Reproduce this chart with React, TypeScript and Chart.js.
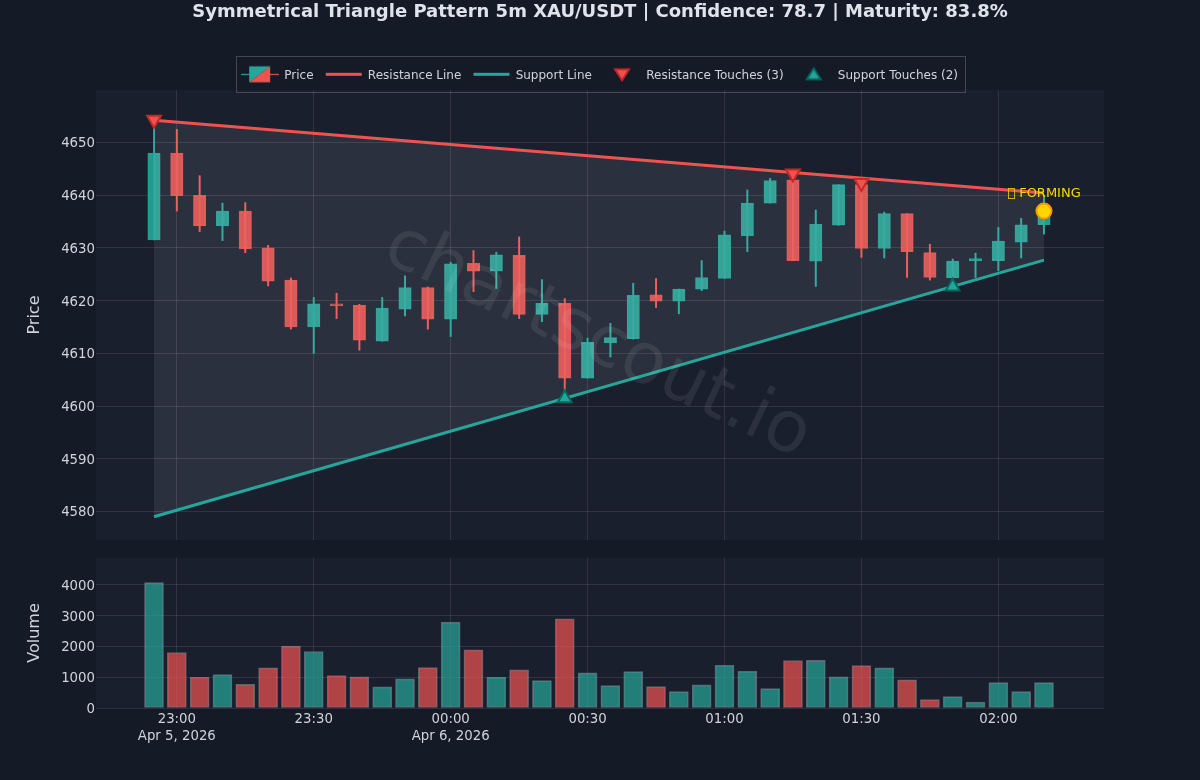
import React, { useEffect, useRef } from "react";
import { Chart, registerables } from "chart.js";

Chart.register(...registerables);

const times = ["22:55","23:00","23:05","23:10","23:15","23:20","23:25","23:30","23:35","23:40","23:45","23:50","23:55","00:00","00:05","00:10","00:15","00:20","00:25","00:30","00:35","00:40","00:45","00:50","00:55","01:00","01:05","01:10","01:15","01:20","01:25","01:30","01:35","01:40","01:45","01:50","01:55","02:00","02:05","02:10"];
const opens = [4631.5,4648,4640,4634.2,4637,4630,4623.9,4615,4619.4,4619.1,4612.3,4618.4,4622.5,4616.5,4627.1,4625.6,4628.6,4617.4,4619.5,4605.3,4612,4612.8,4621.1,4619.9,4622.2,4624.2,4632.3,4638.5,4642.9,4627.5,4634.3,4642,4629.9,4636.5,4629.1,4624.3,4627.6,4627.6,4631.1,4634.4];
const closes = [4648,4639.9,4634.2,4637,4629.8,4623.7,4615,4619.4,4619,4612.5,4618.6,4622.5,4616.5,4627,4625.6,4628.7,4617.4,4619.5,4605.3,4612.1,4613,4621,4619.9,4622.2,4624.4,4632.5,4638.5,4642.8,4627.6,4634.5,4642,4629.9,4636.5,4629.3,4624.4,4627.5,4627.9,4631.3,4634.4,4637];
const highs = [4654,4652.5,4643.7,4638.5,4638.6,4630.5,4624.3,4620.6,4621.4,4619.3,4620.6,4624.7,4622.6,4627.3,4629.5,4629.2,4632.1,4624,4620.4,4612.9,4615.7,4623.3,4624.2,4622.2,4627.6,4633.2,4641,4643.2,4643.8,4637.2,4642,4642.9,4636.8,4636.5,4630.7,4627.9,4629,4633.9,4635.6,4640];
const lows = [4631.5,4637,4633.1,4631.4,4629.1,4622.8,4614.6,4610,4616.6,4610.6,4612.3,4617.1,4614.6,4613.2,4621.7,4622.3,4616.6,4616,4601.8,4605.3,4609.3,4612.7,4618.7,4617.5,4621.9,4624.2,4629.3,4638.5,4627.6,4622.7,4634.3,4628.2,4628.1,4624.4,4623.9,4623.6,4624.4,4625.7,4628.1,4632.6];
const volumes = [4076,1804,1000,1087,772,1304,2011,1837,1054,1011,685,946,1315,2793,1891,1000,1239,891,2902,1141,728,1185,696,533,750,1391,1196,630,1544,1554,1011,1380,1304,913,272,370,196,826,533,826];

const resistanceLine = [{ t: "22:55", v: 4654.2 }, { t: "02:10", v: 4640.4 }];
const supportLine = [{ t: "22:55", v: 4579 }, { t: "02:10", v: 4627.7 }];
const resistanceTouches = [{ t: "22:55", v: 4654.3 }, { t: "01:15", v: 4644.1 }, { t: "01:30", v: 4642.3 }];
const supportTouches = [{ t: "00:25", v: 4601.5 }, { t: "01:50", v: 4622.7 }];
const currentPoint = [{ t: "02:10", v: 4637 }];

const priceTicks = [4580, 4590, 4600, 4610, 4620, 4630, 4640, 4650];
const volumeTicks = [0, 1000, 2000, 3000, 4000];
const timeTicks = ["23:00", "23:30", "00:00", "00:30", "01:00", "01:30", "02:00"];
const dateLabels: Record<string, string> = { "23:00": "Apr 5, 2026", "00:00": "Apr 6, 2026" };

const TITLE = "Symmetrical Triangle Pattern 5m XAU/USDT | Confidence: 78.7 | Maturity: 83.8%";
const FORMING = "\uE000 FORMING";
const WATERMARK = "chartscout.io";

const FONT = "'DejaVu Sans'";
const PAGE = "#141a26";
const PLOT = "#1a1f2e";
const GRID = "rgba(255,255,255,0.1)";
const TEXT = "#d1d4dc";
const UP = "#26a69a";
const DOWN = "#ef5350";
const UP_BODY = "rgba(38,166,154,0.9)";
const DOWN_BODY = "rgba(239,83,80,0.88)";

const toMinutes = (t: string) => {
  const [h, m] = t.split(":").map(Number);
  return (h >= 22 ? h - 24 : h) * 60 + m;
};
const toClock = (m: number) => {
  const total = (m + 1440) % 1440;
  const h = Math.floor(total / 60);
  const mm = total % 60;
  return `${String(h).padStart(2, "0")}:${String(mm).padStart(2, "0")}`;
};

const X_MIN = -77.71;
const X_MAX = 143.15;

const xs = times.map(toMinutes);
const isUp = opens.map((o, i) => closes[i] >= o);
const pts = (list: { t: string; v: number }[]) => list.map((p) => ({ x: toMinutes(p.t), y: p.v }));

function swatch(draw: (c: CanvasRenderingContext2D) => void) {
  const cv = document.createElement("canvas");
  cv.width = 38;
  cv.height = 22;
  const c = cv.getContext("2d")!;
  c.translate(0, -1.5);
  draw(c);
  return cv;
}

const priceSwatch = () =>
  swatch((c) => {
    c.fillStyle = UP;
    c.fillRect(0, 10.5, 19, 1.2);
    c.fillStyle = DOWN;
    c.fillRect(19, 10.5, 19, 1.2);
    c.beginPath();
    c.moveTo(8, 3);
    c.lineTo(29, 3);
    c.lineTo(8, 19);
    c.closePath();
    c.fillStyle = UP;
    c.fill();
    c.beginPath();
    c.moveTo(29, 3);
    c.lineTo(29, 19);
    c.lineTo(8, 19);
    c.closePath();
    c.fillStyle = DOWN;
    c.fill();
  });
const lineSwatch = (color: string) =>
  swatch((c) => {
    c.fillStyle = color;
    c.fillRect(1, 9.5, 36, 3);
  });
const triSwatch = (fill: string, stroke: string, down: boolean) =>
  swatch((c) => {
    c.beginPath();
    if (down) {
      c.moveTo(12, 6);
      c.lineTo(26, 6);
      c.lineTo(19, 17);
    } else {
      c.moveTo(12, 16);
      c.lineTo(26, 16);
      c.lineTo(19, 5);
    }
    c.closePath();
    c.fillStyle = fill;
    c.strokeStyle = stroke;
    c.lineWidth = 2;
    c.fill();
    c.stroke();
  });

const plotBackground = {
  id: "plotBackground",
  beforeDraw(chart: any) {
    const { ctx, chartArea: a } = chart;
    ctx.save();
    ctx.fillStyle = PLOT;
    ctx.fillRect(a.left, a.top, a.right - a.left, a.bottom - a.top);
    ctx.restore();
  },
};

const priceOverlay = {
  id: "priceOverlay",
  beforeLayout(chart: any) {
    const legend = chart.legend;
    if (!legend._fitWrapped) {
      const fit = legend.fit;
      legend.fit = function () {
        fit.call(this);
        this.height = 32.2;
      };
      legend._fitWrapped = true;
    }
  },
  afterDraw(chart: any) {
    const { ctx } = chart;
    ctx.save();
    ctx.strokeStyle = "rgba(255,255,255,0.2)";
    ctx.lineWidth = 1;
    const boxes = chart.legend.legendHitBoxes;
    const l = Math.min(...boxes.map((b: any) => b.left));
    const r = Math.max(...boxes.map((b: any) => b.left + b.width));
    ctx.strokeRect(Math.round(l - 6) + 0.5, 56.5, Math.round(r - l + 13), 36);
    ctx.restore();
  },
  afterDatasetsDraw(chart: any) {
    const { ctx, scales } = chart;
    ctx.save();
    ctx.translate(597, 342);
    ctx.rotate((25.5 * Math.PI) / 180);
    ctx.font = `71px ${FONT}`;
    ctx.fillStyle = "rgba(255,255,255,0.08)";
    ctx.textAlign = "center";
    ctx.textBaseline = "middle";
    ctx.fillText(WATERMARK, 0, 0);
    ctx.restore();
    const last = resistanceLine[resistanceLine.length - 1];
    ctx.save();
    ctx.font = `13px ${FONT}`;
    ctx.fillStyle = "#ffd600";
    ctx.textAlign = "center";
    ctx.textBaseline = "middle";
    ctx.fillText(FORMING, scales.x.getPixelForValue(toMinutes(last.t)), scales.y.getPixelForValue(last.v) + 1);
    ctx.restore();
  },
};

const yAxis = (min: number, max: number, tickValues: number[], title: string) => ({
  type: "linear" as const,
  min,
  max,
  grid: { color: GRID, lineWidth: 1, drawTicks: false },
  border: { display: false },
  ticks: {
    autoSkip: false,
    padding: 1,
    labelOffset: 1.5,
    color: TEXT,
    font: { family: FONT, size: 13.3 },
    callback: (v: any) => String(v),
  },
  title: {
    display: true,
    text: title,
    color: TEXT,
    font: { family: FONT, size: 16 },
    padding: { top: 25.5, bottom: 0 },
  },
  afterBuildTicks: (axis: any) => {
    axis.ticks = tickValues.map((value) => ({ value }));
  },
  afterFit: (axis: any) => {
    axis.width = 96;
  },
});

const xAxis = (showLabels: boolean, height: number) => ({
  type: "linear" as const,
  min: X_MIN,
  max: X_MAX,
  offset: false,
  grid: { color: GRID, lineWidth: 1, drawTicks: false, offset: false },
  border: { display: false },
  ticks: {
    autoSkip: false,
    maxRotation: 0,
    minRotation: 0,
    padding: 3,
    color: TEXT,
    font: { family: FONT, size: 13.3, lineHeight: 1.28 },
    display: showLabels,
    callback: (v: any) => {
      const clock = toClock(Number(v));
      return dateLabels[clock] ? [clock, dateLabels[clock]] : clock;
    },
  },
  afterBuildTicks: (axis: any) => {
    axis.ticks = timeTicks.map((t) => ({ value: toMinutes(t) }));
  },
  afterFit: (axis: any) => {
    axis.height = height;
  },
});

const rightSpacer = {
  type: "linear" as const,
  position: "right" as const,
  display: true,
  grid: { display: false, drawTicks: false },
  border: { display: false },
  ticks: { display: false },
  afterFit: (axis: any) => {
    axis.width = 96;
  },
};

export default function App() {
  const priceRef = useRef<HTMLCanvasElement>(null);
  const volumeRef = useRef<HTMLCanvasElement>(null);

  useEffect(() => {
    const legendItems = [
      { text: "Price", pointStyle: priceSwatch() },
      { text: "Resistance Line", pointStyle: lineSwatch(DOWN) },
      { text: "Support Line", pointStyle: lineSwatch(UP) },
      { text: "Resistance Touches (3)", pointStyle: triSwatch(DOWN, "#c62828", true) },
      { text: "Support Touches (2)", pointStyle: triSwatch(UP, "#00695c", false) },
    ];

    const wickColors = isUp.map((u) => (u ? UP : DOWN));
    const bodyColors = isUp.map((u) => (u ? UP_BODY : DOWN_BODY));

    const price = new Chart(priceRef.current!, {
      type: "bar",
      data: {
        datasets: [
          {
            type: "bar",
            label: "Wicks",
            data: xs.map((x, i) => ({ x, y: [lows[i], highs[i]] })),
            backgroundColor: wickColors,
            barThickness: 1.3,
            grouped: false,
            order: 6,
          },
          {
            type: "bar",
            label: "Price",
            data: xs.map((x, i) => ({ x, y: [opens[i], closes[i]] })),
            backgroundColor: bodyColors,
            borderColor: bodyColors,
            borderWidth: 1,
            borderSkipped: false,
            barThickness: 12.4,
            minBarLength: 2,
            grouped: false,
            order: 5,
          },
          {
            type: "line",
            label: "Resistance Line",
            data: pts(resistanceLine),
            borderColor: DOWN,
            borderWidth: 3,
            pointRadius: 0,
            fill: "+1",
            backgroundColor: "rgba(255,255,255,0.08)",
            order: 4,
          },
          {
            type: "line",
            label: "Support Line",
            data: pts(supportLine),
            borderColor: UP,
            borderWidth: 3,
            pointRadius: 0,
            fill: false,
            order: 3,
          },
          {
            type: "line",
            label: "Resistance Touches (3)",
            data: pts(resistanceTouches),
            showLine: false,
            pointStyle: "triangle",
            pointRotation: 180,
            pointRadius: 8,
            pointBackgroundColor: DOWN,
            pointBorderColor: "#c62828",
            pointBorderWidth: 2,
            order: 2,
          },
          {
            type: "line",
            label: "Support Touches (2)",
            data: pts(supportTouches),
            showLine: false,
            pointStyle: "triangle",
            pointRadius: 8,
            pointBackgroundColor: UP,
            pointBorderColor: "#00695c",
            pointBorderWidth: 2,
            order: 1,
          },
          {
            type: "line",
            label: "Current",
            data: pts(currentPoint),
            showLine: false,
            pointStyle: "circle",
            pointRadius: 7.5,
            pointBackgroundColor: "#ffd600",
            pointBorderColor: "#ff9800",
            pointBorderWidth: 2,
            order: 0,
          },
        ],
      } as any,
      options: {
        responsive: false,
        animation: false,
        layout: { padding: { top: 0, left: 0, right: 0, bottom: 240 } },
        plugins: {
          tooltip: { enabled: false },
          title: {
            display: true,
            text: TITLE,
            color: "#e0e3eb",
            font: { family: FONT, size: 18, weight: "bold" },
            padding: { top: 1.5, bottom: 34.7 },
          },
          legend: {
            display: true,
            position: "top",
            align: "center",
            labels: {
              color: TEXT,
              font: { family: FONT, size: 12 },
              usePointStyle: true,
              pointStyleWidth: 36.3,
              padding: 12,
              generateLabels: () =>
                legendItems.map((it, i) => ({
                  text: it.text,
                  pointStyle: it.pointStyle,
                  fillStyle: "transparent",
                  strokeStyle: "transparent",
                  lineWidth: 0,
                  hidden: false,
                  datasetIndex: i,
                  fontColor: TEXT,
                })) as any,
            },
          },
        },
        scales: {
          x: xAxis(false, 0),
          y: yAxis(4574.6, 4659.96, priceTicks, "Price"),
          spacer: rightSpacer,
        },
      } as any,
      plugins: [plotBackground, priceOverlay],
    });

    const volume = new Chart(volumeRef.current!, {
      type: "bar",
      data: {
        datasets: [
          {
            label: "Volume",
            data: xs.map((x, i) => ({ x, y: volumes[i] })),
            backgroundColor: isUp.map((u) => (u ? "rgba(38,166,154,0.7)" : "rgba(239,83,80,0.7)")),
            borderColor: "rgba(255,255,255,0.3)",
            borderWidth: 1,
            borderSkipped: false,
            barThickness: 19,
            grouped: false,
          },
        ],
      } as any,
      options: {
        responsive: false,
        animation: false,
        layout: { padding: { top: 558, left: 0, right: 96, bottom: 22 } },
        plugins: {
          tooltip: { enabled: false },
          title: { display: false },
          legend: { display: false },
        },
        scales: {
          x: xAxis(true, 50),
          y: yAxis(0, 4878, volumeTicks, "Volume"),
        },
      } as any,
      plugins: [plotBackground],
    });

    return () => {
      price.destroy();
      volume.destroy();
    };
  }, []);

  const canvasStyle: React.CSSProperties = { position: "absolute", left: 0, top: 0 };
  return (
    <div style={{ position: "fixed", left: 0, top: 0, width: 1200, height: 780, background: PAGE, overflow: "hidden" }}>
      <canvas ref={priceRef} width={1200} height={780} style={canvasStyle} />
      <canvas ref={volumeRef} width={1200} height={780} style={canvasStyle} />
    </div>
  );
}
